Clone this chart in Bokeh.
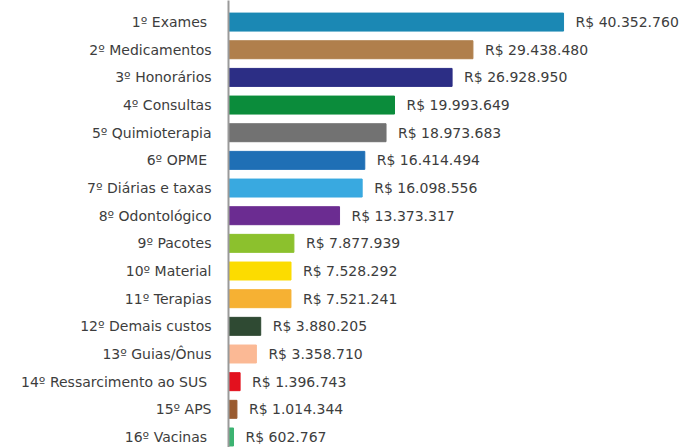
from bokeh.plotting import figure
from bokeh.models import ColumnDataSource, Range1d, FixedTicker
from bokeh.core.properties import value
from bokeh.embed import file_html
from bokeh.resources import INLINE

categories = ["1º  Exames", "2º Medicamentos", "3º Honorários", "4º Consultas",
              "5º Quimioterapia", "6º  OPME", "7º Diárias e taxas", "8º Odontológico",
              "9º Pacotes", "10º Material", "11º Terapias", "12º Demais custos",
              "13º Guias/Ônus", "14º  Ressarcimento ao SUS", "15º APS", "16º  Vacinas"]
values = [40352760, 29438480, 26928950, 19993649, 18973683, 16414494, 16098556,
          13373317, 7877939, 7528292, 7521241, 3880205, 3358710, 1396743, 1014344, 602767]
value_labels = ["R$ 40.352.760", "R$ 29.438.480", "R$ 26.928.950", "R$ 19.993.649",
                "R$ 18.973.683", "R$ 16.414.494", "R$ 16.098.556", "R$ 13.373.317",
                "R$ 7.877.939", "R$ 7.528.292", "R$ 7.521.241", "R$ 3.880.205",
                "R$ 3.358.710", "R$ 1.396.743", "R$ 1.014.344", "R$ 602.767"]
colors = ["#1b88b4", "#b07f4c", "#2c2e85", "#0b8c3b", "#727272", "#1f6fb5", "#39a9e0",
          "#6b2c91", "#8cc12d", "#fcdc00", "#f6b133", "#2f4a33", "#fbb995", "#e3111e",
          "#9a5b30", "#3cb371"]

pos = list(range(len(categories)))
src = ColumnDataSource(dict(y=pos, v=values, lab=value_labels, c=colors))

FONT = "DejaVu Sans"
p = figure(width=683, height=447, output_backend="svg", toolbar_location=None,
           x_range=Range1d(0, 54.8e6), y_range=Range1d(15.38, -0.78),
           min_border_left=228, min_border_right=0, min_border_top=0, min_border_bottom=0)
p.outline_line_color = None
p.grid.visible = False
p.xaxis.visible = False

p.hbar(y="y", right="v", left=0, height=0.65, color="c", source=src)
p.text(x="v", y="y", text="lab", source=src, x_offset=12, text_align="left",
       text_baseline="middle", text_font=value(FONT), text_font_size="14px",
       text_color="#3d3d3d")

ya = p.yaxis[0]
ya.ticker = FixedTicker(ticks=pos)
ya.major_label_overrides = {i: c for i, c in zip(pos, categories)}
ya.major_tick_line_color = None
ya.minor_tick_line_color = None
ya.axis_line_color = "#9a9a9a"
ya.axis_line_width = 2
ya.major_label_standoff = 11
ya.major_label_text_font = FONT
ya.major_label_text_font_size = "14px"
ya.major_label_text_color = "#3d3d3d"

open("out.html", "w").write(file_html(p, INLINE))
